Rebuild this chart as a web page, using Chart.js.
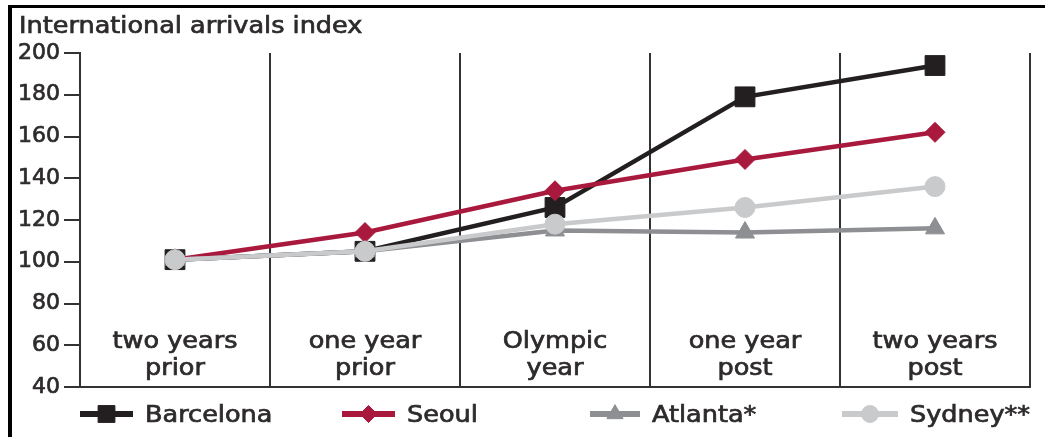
<!DOCTYPE html>
<html>
<head>
<meta charset="utf-8">
<script src="https://cdn.jsdelivr.net/npm/chart.js@4.4.1/dist/chart.umd.min.js"></script>
<style>
    html, body { margin: 0; padding: 0; background: #fff; }
    #wrap { position: relative; width: 1045px; height: 437px; overflow: hidden; }
    #frame {
        position: absolute; left: 8px; top: 5px; right: -10px; bottom: -10px;
        border-top: 3px solid #000; border-left: 4px solid #000;
        pointer-events: none;
    }
    canvas { position: absolute; left: 0; top: 0; }
</style>
</head>
<body>
<div id="wrap">
    <canvas id="arrivalsChart" width="1045" height="437"></canvas>
    <div id="frame"></div>
</div>
<script>
// data
const categories = [
    ['two years', 'prior'],
    ['one year', 'prior'],
    ['Olympic', 'year'],
    ['one year', 'post'],
    ['two years', 'post']
];
const seriesNames = ['Barcelona', 'Seoul', 'Atlanta*', 'Sydney**'];
const barcelona = [101, 105, 126, 179, 194];
const seoul = [101, 114, 134, 149, 162];
const atlanta = [101, 105, 115, 114, 116];
const sydney = [101, 105, 118, 126, 136];
const yTicks = [40, 60, 80, 100, 120, 140, 160, 180, 200];
const titleText = 'International arrivals index';

const textColor = '#2d2a2b';
const fontFamily = '"DejaVu Sans", Verdana, sans-serif';
const stretch = 1.11; // source type is a bit wider than DejaVu

function wideText(ctx, text, x, y, align) {
    ctx.save();
    ctx.translate(x, y);
    ctx.scale(stretch, 1);
    ctx.textAlign = align;
    ctx.textBaseline = 'alphabetic';
    ctx.strokeStyle = textColor;
    ctx.lineWidth = 0.7; // the print type is a touch heavier
    ctx.strokeText(text, 0, 0);
    ctx.fillText(text, 0, 0);
    ctx.restore();
}

// title, in-plot category labels and the legend row
const textPlugin = {
    id: 'textPlugin',
    afterDraw(chart) {
        const ctx = chart.ctx;
        const xScale = chart.scales.x;
        ctx.save();
        ctx.fillStyle = textColor;
        ctx.font = '23px ' + fontFamily;
        wideText(ctx, titleText, 19, 33, 'left');

        categories.forEach(function(lines, i) {
            const cx = xScale.getPixelForValue(i);
            lines.forEach(function(line, j) {
                wideText(ctx, line, cx, 348 + j * 27, 'center');
            });
        });

        // legend
        const legendX = [80, 342, 590, 842];
        const legendW = [53, 53, 50, 56];
        const legendY = 414;
        chart.data.datasets.forEach(function(ds, i) {
            const x0 = legendX[i];
            ctx.save();
            ctx.strokeStyle = ds.borderColor;
            ctx.lineWidth = 6;
            ctx.beginPath();
            ctx.moveTo(x0, legendY);
            ctx.lineTo(x0 + legendW[i], legendY);
            ctx.stroke();
            ctx.fillStyle = ds.backgroundColor;
            ctx.strokeStyle = ds.borderColor;
            ctx.lineWidth = 1;
            Chart.helpers.drawPoint(ctx, {
                pointStyle: ds.pointStyle,
                radius: ds.pointRadius * 0.85,
                rotation: 0,
                borderWidth: 1
            }, x0 + legendW[i] / 2, legendY);
            ctx.restore();
            ctx.fillStyle = textColor;
            ctx.font = '23px ' + fontFamily;
            wideText(ctx, ds.label, x0 + legendW[i] + 12, 422, 'left');
        });
        ctx.restore();
    }
};

function lineSet(label, data, color, style, radius, order) {
    return {
        label: label,
        data: data,
        borderColor: color,
        backgroundColor: color,
        borderWidth: 4.5,
        pointStyle: style,
        pointRadius: radius,
        pointHoverRadius: radius,
        pointBorderWidth: 1,
        pointBorderColor: color,
        pointBackgroundColor: color,
        tension: 0,
        order: order
    };
}

document.addEventListener('DOMContentLoaded', function() {
    const ctx = document.getElementById('arrivalsChart').getContext('2d');
    new Chart(ctx, {
        type: 'line',
        data: {
            labels: categories,
            datasets: [
                lineSet(seriesNames[0], barcelona, '#231f20', 'rect', 14, 4),
                lineSet(seriesNames[1], seoul, '#a8193d', 'rectRot', 10, 3),
                lineSet(seriesNames[2], atlanta, '#8e8f92', 'triangle', 11, 2),
                lineSet(seriesNames[3], sydney, '#c9cacc', 'circle', 10, 1)
            ]
        },
        options: {
            responsive: false,
            animation: false,
            layout: {
                padding: { left: 0, right: 12, top: 53, bottom: 50 }
            },
            plugins: {
                legend: { display: false },
                title: { display: false },
                tooltip: { enabled: false }
            },
            scales: {
                x: {
                    type: 'category',
                    offset: true,
                    grid: {
                        offset: true,
                        drawOnChartArea: true,
                        drawTicks: false,
                        color: '#333',
                        lineWidth: 2
                    },
                    border: { display: true, color: '#333', width: 2 },
                    ticks: { display: false },
                    afterFit: function(scale) { scale.height = 0; }
                },
                y: {
                    min: yTicks[0],
                    max: yTicks[yTicks.length - 1],
                    afterBuildTicks: function(scale) {
                        scale.ticks = yTicks.map(function(v) { return { value: v }; });
                    },
                    grid: {
                        drawOnChartArea: false,
                        drawTicks: true,
                        tickLength: 16,
                        color: '#333',
                        lineWidth: 2
                    },
                    border: { display: true, color: '#333', width: 2 },
                    ticks: {
                        color: textColor,
                        padding: 4,
                        textStrokeColor: textColor,
                        textStrokeWidth: 0.7,
                        font: { family: fontFamily, size: 22 }
                    },
                    afterFit: function(scale) { scale.width = 80; }
                }
            }
        },
        plugins: [textPlugin]
    });
});
</script>
</body>
</html>
